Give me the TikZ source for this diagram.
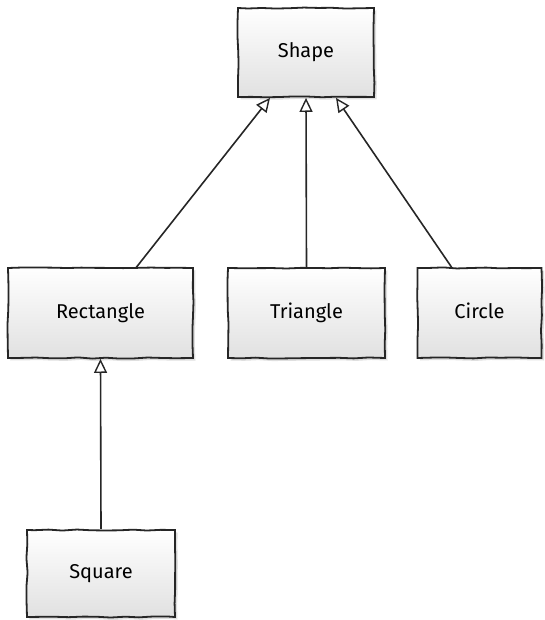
\documentclass[tikz,border=0pt]{standalone}
\usepackage{fontspec}
\setmainfont{Fira Sans}
\usetikzlibrary{arrows.meta,shadows,decorations.pathmorphing}
\begin{document}
\begin{tikzpicture}[x=1pt,y=-1pt,
  cls/.style={draw=black!85, line width=1.8pt,
    top color=white, bottom color=black!12,
    drop shadow={opacity=0.25, shadow xshift=2.5pt, shadow yshift=-2.5pt},
    decorate, decoration={random steps, segment length=14pt, amplitude=0.6pt},
    font=\fontsize{20}{24}\selectfont, inner sep=0pt,
    text height=14pt, text depth=4pt},
  inherit/.style={draw=black!85, line width=1.6pt,
    -{Triangle[length=14pt, width=13pt, fill=white, line width=1.4pt]}}]
\useasboundingbox (0,0) rectangle (544,620);
\pgfmathsetseed{7}
\node[cls, minimum width=136pt, minimum height=89pt] (shape) at (306,52.5) {Shape};
\node[cls, minimum width=185pt, minimum height=90pt] (rect) at (100.5,313) {Rectangle};
\node[cls, minimum width=157pt, minimum height=90pt] (tri) at (306.5,313) {Triangle};
\node[cls, minimum width=124pt, minimum height=90pt] (circ) at (479.5,313) {Circle};
\node[cls, minimum width=148pt, minimum height=87pt] (sq) at (101,573.5) {Square};
\draw[inherit] ([xshift=36pt]rect.north) -- ([xshift=-36pt]shape.south);
\draw[inherit] (tri.north) -- (shape.south);
\draw[inherit] ([xshift=-28pt]circ.north) -- ([xshift=30pt]shape.south);
\draw[inherit] (sq.north) -- (rect.south);
\end{tikzpicture}
\end{document}
